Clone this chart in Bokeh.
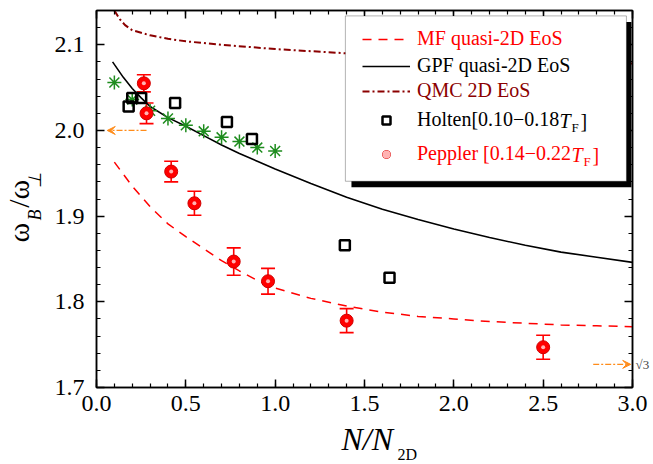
from bokeh.plotting import figure
from bokeh.models import (Range1d, LinearAxis, Legend, LegendItem, Label, Arrow, VeeHead,
                          Whisker, TeeHead, ColumnDataSource, BoxAnnotation, FixedTicker,
                          PrintfTickFormatter, Title)
from bokeh.embed import file_html
from bokeh.resources import INLINE

# ---------------- data ----------------
gpf_x = [0.09, 0.15, 0.2, 0.25, 0.3, 0.4, 0.5, 0.6, 0.7, 0.8, 0.9, 1.0, 1.2, 1.4, 1.6, 1.8, 2.0, 2.2, 2.4, 2.6, 2.8, 3.0]
gpf_y = [2.080, 2.062, 2.049, 2.038, 2.028, 2.015, 2.005, 1.994, 1.983, 1.973, 1.964, 1.955, 1.938, 1.922, 1.908, 1.896, 1.885, 1.875, 1.866, 1.858, 1.852, 1.846]

mf_x = [0.1, 0.2, 0.3, 0.4, 0.5, 0.6, 0.7, 0.8, 0.9, 1.0, 1.2, 1.4, 1.6, 1.8, 2.0, 2.2, 2.4, 2.6, 2.8, 3.0]
mf_y = [1.963, 1.935, 1.911, 1.891, 1.876, 1.862, 1.848, 1.836, 1.825, 1.816, 1.804, 1.795, 1.788, 1.783, 1.780, 1.777, 1.775, 1.773, 1.772, 1.771]

qmc_x = [0.1, 0.13, 0.16, 0.2, 0.25, 0.3, 0.4, 0.5, 0.7, 1.0, 1.4, 2.0, 2.5, 3.0]
qmc_y = [2.140, 2.130, 2.123, 2.117, 2.114, 2.111, 2.107, 2.104, 2.100, 2.095, 2.090, 2.085, 2.081, 2.078]

star_x = [0.1, 0.2, 0.3, 0.4, 0.5, 0.6, 0.7, 0.8, 0.9, 1.0]
star_y = [2.056, 2.036, 2.023, 2.014, 2.006, 1.999, 1.992, 1.987, 1.980, 1.976]

holten_x = [0.18, 0.20, 0.25, 0.44, 0.73, 0.87, 1.39, 1.64]
holten_y = [2.028, 2.038, 2.038, 2.032, 2.010, 1.990, 1.866, 1.828]

pep_x = [0.265, 0.28, 0.418, 0.548, 0.768, 0.96, 1.40, 2.50]
pep_y = [2.055, 2.020, 1.952, 1.915, 1.847, 1.824, 1.778, 1.747]
pep_err = [0.010, 0.012, 0.012, 0.014, 0.016, 0.015, 0.014, 0.014]

x_major = [0.0, 0.5, 1.0, 1.5, 2.0, 2.5, 3.0]
y_major = [1.7, 1.8, 1.9, 2.0, 2.1]
sqrt3_mark = 1.727

# ---------------- figure ----------------
FONT = "Liberation Serif"
p = figure(width=653, height=464, x_range=Range1d(0, 3), y_range=Range1d(1.7, 2.14),
           output_backend="svg", toolbar_location=None,
           min_border_left=96, min_border_right=21, min_border_top=10, min_border_bottom=77,
           x_axis_type=None, y_axis_type=None)
p.grid.visible = False
p.outline_line_color = "black"
p.outline_line_width = 1.5
p.background_fill_color = "white"
p.border_fill_color = "white"

x_minor = [round(i * 0.1, 2) for i in range(31)]
y_minor = [round(1.7 + i * 0.02, 2) for i in range(23)]


def make_axis(ticks, minor, show_labels, standoff):
    ax = LinearAxis(ticker=FixedTicker(ticks=ticks, minor_ticks=minor),
                    formatter=PrintfTickFormatter(format="%.1f"))
    ax.axis_line_width = 1.5
    ax.axis_line_color = "black"
    ax.major_tick_in = 8
    ax.major_tick_out = 0
    ax.minor_tick_in = 4
    ax.minor_tick_out = 0
    ax.major_tick_line_width = 1.5
    ax.minor_tick_line_width = 1.2
    ax.major_label_text_font = FONT
    ax.major_label_text_font_size = "24px"
    ax.major_label_text_color = "black"
    ax.major_label_standoff = standoff
    if not show_labels:
        ax.major_label_overrides = {t: "" for t in ticks}
        ax.major_label_text_alpha = 0
    return ax


p.add_layout(make_axis(x_major, x_minor, True, 8), "below")
p.add_layout(make_axis(y_major, y_minor, True, 12), "left")
p.add_layout(make_axis(x_major, x_minor, False, 0), "above")
p.add_layout(make_axis(y_major, y_minor, False, 0), "right")

# sqrt(3) marker label on the right side
ax_s3 = LinearAxis(ticker=FixedTicker(ticks=[sqrt3_mark], minor_ticks=[]),
                   major_label_overrides={sqrt3_mark: "√3"})
ax_s3.axis_line_color = None
ax_s3.major_tick_line_color = None
ax_s3.minor_tick_line_color = None
ax_s3.major_tick_in = 0
ax_s3.major_tick_out = 0
ax_s3.major_label_text_font = FONT
ax_s3.major_label_text_font_size = "13px"
ax_s3.major_label_standoff = 3
p.add_layout(ax_s3, "right")

# ---------------- glyphs ----------------
r_mf = p.line(mf_x, mf_y, line_color="red", line_width=1.5, line_dash="9 7")
r_gpf = p.line(gpf_x, gpf_y, line_color="black", line_width=1.6)
r_qmc = p.line(qmc_x, qmc_y, line_color="#8B0000", line_width=2, line_dash="7 3 2 3")

p.scatter(star_x, star_y, marker="asterisk", size=14, line_color="#1E8C1E", line_width=1.5)

r_hol = p.scatter(holten_x, holten_y, marker="square", size=10, fill_color=None,
                  line_color="black", line_width=2.5)

err_src = ColumnDataSource(dict(x=pep_x,
                                upper=[y + e for y, e in zip(pep_y, pep_err)],
                                lower=[y - e for y, e in zip(pep_y, pep_err)]))
p.add_layout(Whisker(source=err_src, base="x", upper="upper", lower="lower",
                     line_color="red", line_width=1.6,
                     upper_head=TeeHead(size=14, line_color="red", line_width=1.6),
                     lower_head=TeeHead(size=14, line_color="red", line_width=1.6)))
r_pep = p.scatter(pep_x, pep_y, marker="circle", size=13, fill_color="red", line_color="#d00000")
r_pep_hi = p.scatter(pep_x, pep_y, marker="circle", size=4, fill_color="#ffb3b3", line_color=None)

# arrows
ORANGE = "#FF8C1A"
p.add_layout(Arrow(end=VeeHead(size=8, fill_color=ORANGE, line_color=ORANGE),
                   x_start=0.28, y_start=2.0, x_end=0.06, y_end=2.0,
                   line_color=ORANGE, line_width=1.2, line_dash="6 2 2 2"))
p.add_layout(Arrow(end=VeeHead(size=8, fill_color=ORANGE, line_color=ORANGE),
                   x_start=2.78, y_start=sqrt3_mark, x_end=2.99, y_end=sqrt3_mark,
                   line_color=ORANGE, line_width=1.2, line_dash="6 2 2 2"))

# ---------------- legend box ----------------
p.add_layout(BoxAnnotation(left=1.427, right=2.994, top=2.1267, bottom=1.9337,
                           fill_color="black", fill_alpha=1.0, line_color=None))
p.add_layout(BoxAnnotation(left=1.393, right=2.966, top=2.1337, bottom=1.9407,
                           fill_color="white", fill_alpha=1.0, line_color="black", line_width=1))

entries = [
    ("MF quasi-2D EoS", [r_mf], "red", 337),
    ("GPF quasi-2D EoS", [r_gpf], "black", 310),
    ("QMC 2D EoS", [r_qmc], "#8B0000", 285),
    ("Holten[0.10−0.18", [r_hol], "black", 256),
    ("Peppler [0.14−0.22", [r_pep, r_pep_hi], "red", 222),
]
for text, rends, col, vy in entries:
    lg = Legend(items=[LegendItem(label=text, renderers=rends)], location=(266, vy),
                orientation="vertical", padding=0, margin=0, spacing=0,
                glyph_width=48, glyph_height=20, label_height=20, label_standoff=7,
                label_text_font=FONT, label_text_font_size="20px", label_text_color=col,
                border_line_color=None, background_fill_alpha=0.0)
    p.add_layout(lg)

# T_F parts of legend labels
for (tx, fx, bx, yc, yf, col) in [(2.591, 2.659, 2.709, 2.0105, 2.0035, "black"),
                                  (2.659, 2.726, 2.776, 1.9709, 1.9640, "red")]:
    p.add_layout(Label(x=tx, y=yc, text="T", text_font=FONT, text_font_style="italic",
                       text_font_size="20px", text_baseline="middle", text_color=col))
    p.add_layout(Label(x=fx, y=yf, text="F", text_font=FONT,
                       text_font_size="13px", text_baseline="middle", text_color=col))
    p.add_layout(Label(x=bx, y=yc, text="]", text_font=FONT,
                       text_font_size="20px", text_baseline="middle", text_color=col))

# ---------------- axis titles (side-panel titles) ----------------
# x title: N/N with subscript 2D
p.add_layout(Title(text="N/N", text_font=FONT, text_font_style="italic", text_font_size="32px",
                   text_color="black", align="left", offset=245, vertical_align="bottom",
                   standoff=10), "below")
p.add_layout(Title(text="2D", text_font=FONT, text_font_style="normal", text_font_size="16px",
                   text_color="black", align="left", offset=301, vertical_align="top",
                   standoff=-31), "below")

# y title: ω_B/ω_⊥ (subscripts column next to the axis, main column outside)
p.add_layout(Title(text="B\u2003\u2009⊥", text_font=FONT, text_font_style="italic",
                   text_font_size="18px", text_color="black", align="left", offset=167,
                   vertical_align="bottom", standoff=14), "left")
p.add_layout(Title(text="ω\u2002/ω", text_font=FONT, text_font_style="normal",
                   text_font_size="30px", text_color="black", align="left", offset=145,
                   vertical_align="bottom", standoff=-38), "left")

open("out.html", "w").write(file_html(p, INLINE))
